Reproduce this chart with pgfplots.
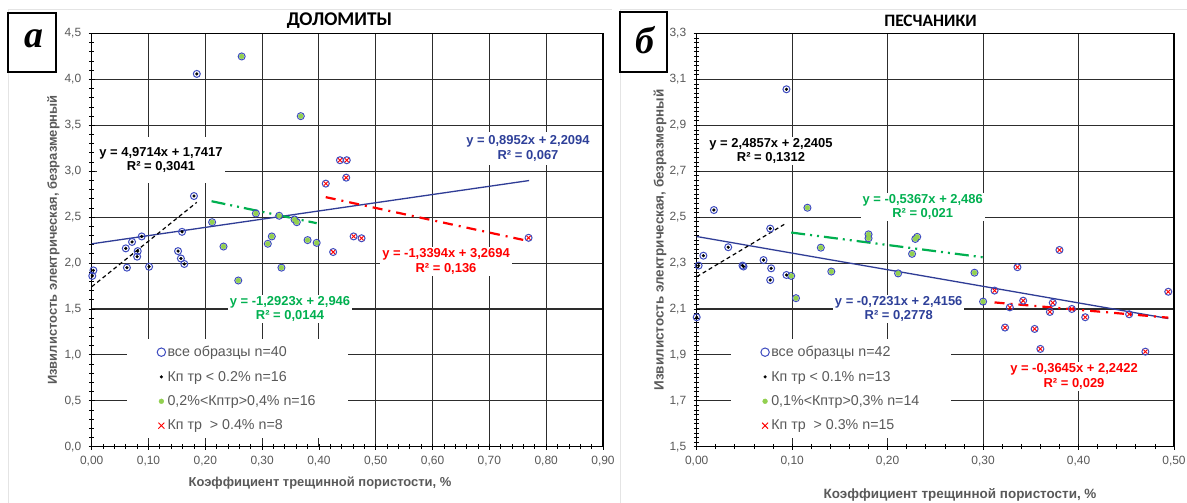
\documentclass[border=0pt]{standalone}
\usepackage{fontspec}
\setmainfont{Liberation Sans}
\newfontfamily\calibri{Carlito}
\newfontfamily\serifit{Liberation Serif}
\usepackage{pgfplots}
\pgfplotsset{compat=1.18}
\usepackage{pgfplotstable}

\definecolor{tickgray}{RGB}{89,89,89}
\definecolor{ringblue}{RGB}{62,76,192}
\definecolor{lineblue}{RGB}{47,60,150}
\definecolor{eqblue}{RGB}{46,64,153}
\definecolor{eqgreen}{RGB}{0,176,80}
\definecolor{dotgreen}{RGB}{146,208,80}
\definecolor{gridc}{RGB}{45,45,45}
\definecolor{panelc}{RGB}{228,228,228}
\definecolor{eqred}{RGB}{255,0,0}

% ---------- ДОЛОМИТЫ ----------
\pgfplotstableread{
x y
0.003 1.92
0.001 1.86
0.062 1.95
0.060 2.16
0.071 2.23
0.081 2.13
0.080 2.07
0.088 2.29
0.101 1.96
0.159 2.34
0.152 2.13
0.157 2.05
0.163 1.99
0.180 2.73
0.185 4.06
}\dolBlack
\pgfplotstableread{
x y
0.212 2.445
0.232 2.18
0.258 1.81
0.264 4.25
0.289 2.54
0.310 2.21
0.317 2.29
0.330 2.515
0.334 1.95
0.357 2.475
0.361 2.445
0.368 3.60
0.380 2.25
0.396 2.22
}\dolGreen
\pgfplotstableread{
x y
0.412 2.865
0.437 3.12
0.449 3.12
0.448 2.93
0.461 2.29
0.475 2.27
0.425 2.12
0.769 2.275
}\dolRed

% ---------- ПЕСЧАНИКИ ----------
\pgfplotstableread{
x y
0.018 2.531
0.007 2.332
0.002 2.289
0.000 2.064
0.033 2.369
0.048 2.289
0.049 2.285
0.077 2.450
0.070 2.313
0.078 2.277
0.077 2.226
0.094 2.248
0.094 3.057
}\pesBlack
\pgfplotstableread{
x y
0.099 2.244
0.104 2.147
0.116 2.541
0.130 2.367
0.141 2.263
0.180 2.425
0.180 2.408
0.211 2.255
0.2256 2.340
0.229 2.405
0.231 2.414
0.291 2.258
0.300 2.132
}\pesGreen
\pgfplotstableread{
x y
0.380 2.357
0.336 2.282
0.312 2.180
0.342 2.136
0.328 2.107
0.373 2.127
0.370 2.087
0.393 2.100
0.407 2.064
0.453 2.077
0.323 2.019
0.354 2.013
0.360 1.926
0.470 1.914
0.494 2.175
}\pesRed

\pgfplotsset{
  dotleg/.style={legend image code/.code={\draw[##1] plot coordinates {(0bp,0bp)};}},
  bigleg/.style={legend image code/.code={\draw[##1, mark size=4.2bp] plot coordinates {(0bp,0bp)};}},
  ringmark/.style={only marks, mark=o, mark size=3.5bp, mark options={draw=ringblue, line width=1.0bp}, bigleg},
  blackmark/.style={only marks, mark=*, mark size=1.4bp, mark options={draw=black, fill=black}, dotleg},
  greenmark/.style={only marks, mark=*, mark size=2.4bp, mark options={draw=dotgreen, fill=dotgreen}, dotleg},
  redmark/.style={only marks, mark=x, mark size=2.8bp, mark options={draw=eqred, line width=0.9bp}, bigleg},
  panel/.style={
    scale only axis, clip=false,
    grid=major, major grid style={gridc, line width=1.1bp},
    axis line style={black, line width=1.1bp},
    tick pos=left, tick align=center,
    major tick length=6bp, minor tick length=5bp,
    every tick/.style={black, line width=0.8bp},
    tick label style={font=\fontsize{12}{14}\selectfont, text=tickgray},
    /pgf/number format/assume math mode=true,
    scaled ticks=false,
    x tick label style={/pgf/number format/fixed, /pgf/number format/fixed zerofill, /pgf/number format/precision=2, /pgf/number format/use comma, yshift=-3bp},
    y tick label style={/pgf/number format/fixed, /pgf/number format/fixed zerofill, /pgf/number format/precision=1, /pgf/number format/use comma, xshift=-4bp},
    legend cell align=left,
    legend style={anchor=north west, draw=none, fill=white, inner xsep=30bp, inner ysep=5bp,
      font=\fontsize{14.3}{16}\selectfont, text=tickgray, row sep=9bp},
  },
}
\tikzset{
  eq/.style={fill=white, align=center, inner xsep=2bp, inner ysep=1.5bp, font=\fontsize{13}{14.5}\selectfont\bfseries},
  axlab/.style={font=\fontsize{13}{15}\selectfont\bfseries, text=tickgray},
}

\begin{document}
\begin{tikzpicture}
\path[use as bounding box, fill=white] (0bp,0bp) rectangle (1187bp,503bp);
\draw[panelc, line width=0.8bp] (8bp,0bp) -- (8bp,493.7bp) -- (612bp,493.7bp);
\draw[panelc, line width=0.8bp] (620.7bp,0bp) -- (620.7bp,493.7bp) -- (1187bp,493.7bp);

% ================= LEFT =================
\begin{axis}[panel,
  at={(91.7bp,56.3bp)}, anchor=south west,
  width=511.3bp, height=413.2bp,
  xmin=0, xmax=0.9, ymin=0, ymax=4.5,
  xtick={0,0.1,0.2,0.3,0.4,0.5,0.6,0.7,0.8,0.9},
  ytick={0,0.5,1,1.5,2,2.5,3,3.5,4,4.5},
  minor x tick num=4, minor y tick num=4,
  legend style={at={(0.069,0.2606)}},
]
\addplot[ringmark] table {\dolBlack};
\addlegendentry{все образцы n=40}
\addplot[ringmark, forget plot] table {\dolGreen};
\addplot[ringmark, forget plot] table {\dolRed};
% regression lines
\addplot[forget plot, lineblue, line width=1.3bp] coordinates {(0,2.2094) (0.77,2.8987)};
\addplot[forget plot, black, line width=1.2bp, dash pattern=on 4bp off 3bp] coordinates {(0,1.7417) (0.185,2.6614)};
\addplot[forget plot, eqgreen, line width=2.2bp, dash pattern=on 14bp off 5bp on 2bp off 5bp on 2bp off 5bp] coordinates {(0.211,2.6733) (0.396,2.4342)};
\addplot[forget plot, eqred, line width=2.2bp, dash pattern=on 10bp off 6bp on 2bp off 6bp] coordinates {(0.412,2.7176) (0.77,2.2381)};
\addplot[blackmark] table {\dolBlack};
\addlegendentry{Кп тр < 0.2\% n=16}
\addplot[greenmark] table {\dolGreen};
\addlegendentry{0,2\%<Кптр>0,4\% n=16}
\addplot[redmark] table {\dolRed};
\addlegendentry{Кп тр \ > 0.4\% n=8}
\end{axis}

% ================= RIGHT =================
\begin{axis}[panel,
  at={(696.7bp,56.3bp)}, anchor=south west,
  width=477.3bp, height=413.2bp,
  xmin=0, xmax=0.5, ymin=1.5, ymax=3.3,
  xtick={0,0.1,0.2,0.3,0.4,0.5},
  ytick={1.5,1.7,1.9,2.1,2.3,2.5,2.7,2.9,3.1,3.3},
  minor x tick num=4, minor y tick num=9,
  legend style={at={(0.0712,0.2606)}},
]
\addplot[ringmark] table {\pesBlack};
\addlegendentry{все образцы n=42}
\addplot[ringmark, forget plot] table {\pesGreen};
\addplot[ringmark, forget plot] table {\pesRed};
\addplot[forget plot, lineblue, line width=1.3bp] coordinates {(0,2.4156) (0.494,2.0584)};
\addplot[forget plot, black, line width=1.2bp, dash pattern=on 4bp off 3bp] coordinates {(0,2.2405) (0.093,2.4717)};
\addplot[forget plot, eqgreen, line width=2.2bp, dash pattern=on 14bp off 5bp on 2bp off 5bp on 2bp off 5bp] coordinates {(0.099,2.4329) (0.300,2.3250)};
\addplot[forget plot, eqred, line width=2.2bp, dash pattern=on 10bp off 6bp on 2bp off 6bp] coordinates {(0.312,2.1285) (0.494,2.0621)};
\addplot[blackmark] table {\pesBlack};
\addlegendentry{Кп тр < 0.1\% n=13}
\addplot[greenmark] table {\pesGreen};
\addlegendentry{0,1\%<Кптр>0,3\% n=14}
\addplot[redmark] table {\pesRed};
\addlegendentry{Кп тр \ > 0.3\% n=15}
\end{axis}

% ---------- equation labels ----------
\node[eq, text=black, inner ysep=10bp] at (161bp,343bp) {y = 4,9714x + 1,7417\\R² = 0,3041};
\node[eq, text=eqblue, inner ysep=4bp] at (528bp,354.7bp) {y = 0,8952x + 2,2094\\R² = 0,067};
\node[eq, text=eqgreen] at (290bp,194.2bp) {y = -1,2923x + 2,946\\R² = 0,0144};
\node[eq, text=eqred] at (446bp,241.7bp) {y = -1,3394x + 3,2694\\R² = 0,136};

\node[eq, text=black] at (771bp,352.2bp) {y = 2,4857x + 2,2405\\R² = 0,1312};
\node[eq, text=eqgreen] at (922.7bp,295.8bp) {y = -0,5367x + 2,486\\R² = 0,021};
\node[eq, text=eqblue] at (898.7bp,194.2bp) {y = -0,7231x + 2,4156\\R² = 0,2778};
\node[eq, text=eqred] at (1074bp,126.5bp) {y = -0,3645x + 2,2422\\R² = 0,029};

% ---------- titles ----------
\node[font=\calibri\fontsize{19.5}{21}\selectfont\bfseries] at (339.5bp,482.3bp) {ДОЛОМИТЫ};
\node[font=\calibri\fontsize{17.5}{19}\selectfont\bfseries] at (930.5bp,482.3bp) {ПЕСЧАНИКИ};

% ---------- axis labels ----------
\node[axlab] at (320bp,20.3bp) {Коэффициент трещинной пористости, \%};
\node[axlab, font=\fontsize{13.5}{15}\selectfont\bfseries] at (960bp,8bp) {Коэффициент трещинной пористости, \%};
\node[axlab, rotate=90] at (53.3bp,263bp) {Извилистость электрическая, безразмерный};
\node[axlab, rotate=90, font=\fontsize{13.5}{15}\selectfont\bfseries] at (660bp,263bp) {Извилистость электрическая, безразмерный};

% ---------- panel letters ----------
\draw[black, line width=1.2bp, fill=white] (8bp,431bp) rectangle (56bp,490bp);
\node[font=\serifit\fontsize{38}{40}\selectfont\bfseries\itshape] at (34bp,464bp) {а};
\draw[black, line width=1.2bp, fill=white] (620bp,431bp) rectangle (667bp,491bp);
\node[font=\serifit\fontsize{38}{40}\selectfont\bfseries\itshape] at (645bp,463bp) {б};
\end{tikzpicture}
\end{document}
